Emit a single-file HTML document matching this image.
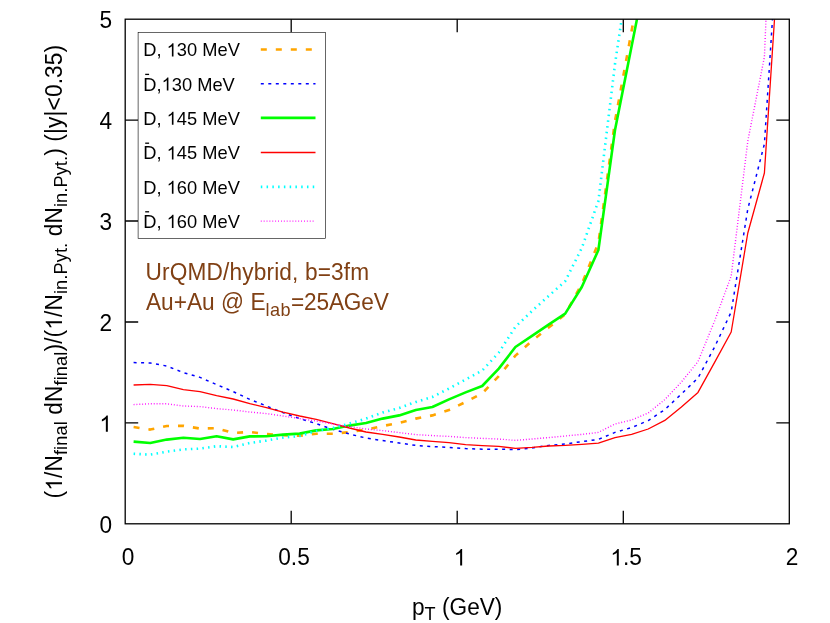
<!DOCTYPE html>
<html><head><meta charset="utf-8"><title>plot</title>
<style>
html,body{margin:0;padding:0;background:#fff;}
body{width:830px;height:623px;overflow:hidden;}
svg{display:block;will-change:transform;}
text{font-family:"Liberation Sans",sans-serif;font-size:22.67px;fill:#000;font-kerning:none;}
.ora{fill:none;stroke:#ffa500;stroke-width:2.6;stroke-dasharray:6 9;}
.blu{fill:none;stroke:#0000ff;stroke-width:1.5;stroke-dasharray:3 4.5;}
.grn{fill:none;stroke:#00ff00;stroke-width:2.6;}
.red{fill:none;stroke:#ff0000;stroke-width:1.3;}
.cya{fill:none;stroke:#00ffff;stroke-width:2.6;stroke-dasharray:1.5 4.27;}
.mag{fill:none;stroke:#ff00ff;stroke-width:1.4;stroke-dasharray:0.9 1.98;}
.br{fill:#804014;}
.lg{font-size:18.3px;}
.sb{font-size:18.1px;}
.h{fill:none;}
.one{fill:#000;stroke:none;}
</style></head>
<body>
<svg width="830" height="623" viewBox="0 0 830 623">
<rect x="0" y="0" width="830" height="623" fill="#fff"/>
<defs><clipPath id="cp"><rect x="125.2" y="19.2" width="664.0999999999999" height="504.59999999999997"/></clipPath></defs>
<path d="M291.2,523.8 v-13 M291.2,19.2 v13 M457.2,523.8 v-13 M457.2,19.2 v13 M623.3,523.8 v-13 M623.3,19.2 v13 M125.2,422.9 h13 M789.3,422.9 h-13 M125.2,322.0 h13 M789.3,322.0 h-13 M125.2,221.0 h13 M789.3,221.0 h-13 M125.2,120.1 h13 M789.3,120.1 h-13" stroke="#000" stroke-width="1.3" fill="none"/>
<g clip-path="url(#cp)" stroke-linejoin="round">
<polyline class="ora" points="133.6,427.0 150.2,429.6 166.8,426.0 183.4,425.8 200.0,428.6 216.6,428.2 233.2,433.0 249.8,432.0 266.4,434.0 283.0,435.2 299.6,435.8 316.2,433.8 332.8,433.8 349.4,432.0 366.0,429.6 382.6,426.0 399.2,423.0 415.8,418.6 432.4,415.4 449.0,410.0 465.6,402.0 482.2,393.4 498.8,376.2 515.4,355.6 532.0,340.8 548.6,327.6 565.2,314.3 581.8,284.0 598.4,243.0 615.0,121.0 633.8,19.0"/>
<polyline class="blu" points="133.6,362.6 150.2,363.0 166.8,366.0 183.4,372.6 200.0,377.4 216.6,384.6 233.2,391.6 249.8,399.4 266.4,406.0 283.0,412.6 299.6,418.6 316.2,423.6 332.8,429.4 349.4,434.0 366.0,438.0 382.6,440.6 399.2,443.0 415.8,445.4 432.4,446.6 449.0,447.4 465.6,448.6 482.2,449.2 498.8,449.2 515.4,449.6 532.0,448.0 548.6,445.4 565.2,444.0 581.8,441.6 598.4,439.4 615.0,432.4 631.6,427.6 648.2,420.6 664.8,409.6 681.4,394.0 698.0,378.0 714.6,347.0 731.2,312.0 747.8,209.0 764.4,144.0 772.5,19.0"/>
<polyline class="grn" points="133.6,441.6 150.2,443.0 166.8,439.6 183.4,437.8 200.0,439.0 216.6,436.2 233.2,439.4 249.8,436.4 266.4,436.2 283.0,434.6 299.6,433.6 316.2,430.4 332.8,429.0 349.4,425.6 366.0,423.0 382.6,418.6 399.2,415.4 415.8,410.0 432.4,407.0 449.0,399.4 465.6,392.4 482.2,386.0 498.8,368.6 515.4,347.0 532.0,335.9 548.6,324.7 565.2,313.6 581.8,287.0 598.4,250.0 615.0,130.0 637.0,19.0"/>
<polyline class="red" points="133.6,385.0 150.2,384.4 166.8,385.6 183.4,389.6 200.0,391.6 216.6,395.6 233.2,399.0 249.8,403.6 266.4,407.6 283.0,412.2 299.6,416.0 316.2,419.4 332.8,423.6 349.4,428.0 366.0,432.0 382.6,434.4 399.2,437.0 415.8,440.0 432.4,441.4 449.0,442.6 465.6,444.6 482.2,445.6 498.8,446.4 515.4,448.4 532.0,447.4 548.6,446.0 565.2,445.4 581.8,444.4 598.4,443.2 615.0,437.6 631.6,434.4 648.2,429.0 664.8,420.4 681.4,407.0 698.0,392.4 714.6,362.4 731.2,332.0 747.8,233.0 764.4,173.0 774.5,19.3"/>
<polyline class="cya" points="133.6,453.8 150.2,454.6 166.8,451.6 183.4,449.4 200.0,448.6 216.6,446.2 233.2,447.0 249.8,443.0 266.4,440.6 283.0,437.6 299.6,436.0 316.2,431.0 332.8,428.0 349.4,423.6 366.0,418.6 382.6,412.6 399.2,408.0 415.8,402.0 432.4,397.0 449.0,388.5 465.6,379.5 482.2,370.6 498.8,352.6 515.4,326.8 532.0,311.0 548.6,296.0 565.2,281.2 581.8,248.0 598.4,201.0 615.0,64.0 621.7,19.0"/>
<polyline class="mag" points="133.6,404.6 150.2,403.8 166.8,403.8 183.4,406.0 200.0,406.6 216.6,408.6 233.2,410.0 249.8,412.0 266.4,413.6 283.0,416.0 299.6,418.6 316.2,421.0 332.8,424.0 349.4,426.6 366.0,429.0 382.6,430.6 399.2,432.6 415.8,434.6 432.4,435.6 449.0,436.4 465.6,437.6 482.2,438.4 498.8,439.0 515.4,440.4 532.0,439.0 548.6,437.6 565.2,436.0 581.8,434.4 598.4,432.4 615.0,424.0 631.6,420.0 648.2,413.0 664.8,399.6 681.4,382.0 698.0,361.6 714.6,321.0 731.2,276.0 747.8,141.0 764.4,57.0 766.0,19.0"/>
</g>
<rect x="125.2" y="19.2" width="664.0999999999999" height="504.59999999999997" fill="none" stroke="#000" stroke-width="1.3"/>
<rect x="138.1" y="32.5" width="187.3" height="205.8" fill="#fff" stroke="#000" stroke-width="0.6"/>
<path class="ora" d="M260.8,49.5 H315.5"/>
<path d="M145.2,74.4 h3.9" stroke="#000" stroke-width="1.3" fill="none"/>
<path class="blu" d="M260.8,83.7 H315.5"/>
<path class="grn" d="M260.8,117.9 H315.5"/>
<path d="M145.2,143.2 h3.9" stroke="#000" stroke-width="1.3" fill="none"/>
<path class="red" d="M260.8,152.5 H315.5"/>
<path class="cya" d="M260.8,186.9 H315.5"/>
<path d="M145.2,211.8 h3.9" stroke="#000" stroke-width="1.3" fill="none"/>
<path class="mag" d="M260.8,221.1 H315.5"/>
<g transform="translate(128.0,565.4) scale(1,1.045)"><text id="t0" text-anchor="middle">0</text></g>
<g transform="translate(294.0,565.4) scale(1,1.045)"><text id="t1" text-anchor="middle">0.5</text></g>
<g transform="translate(460.0,565.4) scale(1,1.045)"><text id="t2" text-anchor="middle"><tspan class="h">1</tspan></text><path class="one" transform="translate(-6.30,0.00) scale(0.01107,-0.01059)" d="M763 0H583V1147Q518 1085 412.5 1023Q307 961 223 930V1104Q374 1175 487 1276Q600 1377 647 1472H763Z"/></g>
<g transform="translate(626.1,565.4) scale(1,1.045)"><text id="t3" text-anchor="middle"><tspan class="h">1</tspan>.5</text><path class="one" transform="translate(-15.75,0.00) scale(0.01107,-0.01059)" d="M763 0H583V1147Q518 1085 412.5 1023Q307 961 223 930V1104Q374 1175 487 1276Q600 1377 647 1472H763Z"/></g>
<g transform="translate(792.1,565.4) scale(1,1.045)"><text id="t4" text-anchor="middle">2</text></g>
<g transform="translate(112.0,532.6) scale(1,1.045)"><text id="t5" text-anchor="end">0</text></g>
<g transform="translate(112.0,431.7) scale(1,1.045)"><text id="t6" text-anchor="end"><tspan class="h">1</tspan></text><path class="one" transform="translate(-12.60,0.00) scale(0.01107,-0.01059)" d="M763 0H583V1147Q518 1085 412.5 1023Q307 961 223 930V1104Q374 1175 487 1276Q600 1377 647 1472H763Z"/></g>
<g transform="translate(112.0,330.8) scale(1,1.045)"><text id="t7" text-anchor="end">2</text></g>
<g transform="translate(112.0,229.8) scale(1,1.045)"><text id="t8" text-anchor="end">3</text></g>
<g transform="translate(112.0,128.9) scale(1,1.045)"><text id="t9" text-anchor="end">4</text></g>
<g transform="translate(112.0,28.0) scale(1,1.045)"><text id="t10" text-anchor="end">5</text></g>
<g transform="translate(143.3,56.4) scale(1,1.045)"><text id="t11" class="lg">D, <tspan class="h">1</tspan>30 MeV</text><path class="one" transform="translate(23.37,0.00) scale(0.00894,-0.00855)" d="M763 0H583V1147Q518 1085 412.5 1023Q307 961 223 930V1104Q374 1175 487 1276Q600 1377 647 1472H763Z"/></g>
<g transform="translate(143.3,90.6) scale(1,1.045)"><text id="t12" class="lg">D,<tspan class="h">1</tspan>30 MeV</text><path class="one" transform="translate(18.30,0.00) scale(0.00894,-0.00855)" d="M763 0H583V1147Q518 1085 412.5 1023Q307 961 223 930V1104Q374 1175 487 1276Q600 1377 647 1472H763Z"/></g>
<g transform="translate(143.3,124.8) scale(1,1.045)"><text id="t13" class="lg">D, <tspan class="h">1</tspan>45 MeV</text><path class="one" transform="translate(23.37,0.00) scale(0.00894,-0.00855)" d="M763 0H583V1147Q518 1085 412.5 1023Q307 961 223 930V1104Q374 1175 487 1276Q600 1377 647 1472H763Z"/></g>
<g transform="translate(143.3,159.4) scale(1,1.045)"><text id="t14" class="lg">D, <tspan class="h">1</tspan>45 MeV</text><path class="one" transform="translate(23.37,0.00) scale(0.00894,-0.00855)" d="M763 0H583V1147Q518 1085 412.5 1023Q307 961 223 930V1104Q374 1175 487 1276Q600 1377 647 1472H763Z"/></g>
<g transform="translate(143.3,193.8) scale(1,1.045)"><text id="t15" class="lg">D, <tspan class="h">1</tspan>60 MeV</text><path class="one" transform="translate(23.37,0.00) scale(0.00894,-0.00855)" d="M763 0H583V1147Q518 1085 412.5 1023Q307 961 223 930V1104Q374 1175 487 1276Q600 1377 647 1472H763Z"/></g>
<g transform="translate(143.3,228.0) scale(1,1.045)"><text id="t16" class="lg">D, <tspan class="h">1</tspan>60 MeV</text><path class="one" transform="translate(23.37,0.00) scale(0.00894,-0.00855)" d="M763 0H583V1147Q518 1085 412.5 1023Q307 961 223 930V1104Q374 1175 487 1276Q600 1377 647 1472H763Z"/></g>
<g transform="translate(145.5,279.9) scale(1,1.045)"><text id="t17" class="br" letter-spacing="0.15">UrQMD/hybrid, b=3fm</text></g>
<g transform="translate(145.9,310.0) scale(1,1.045)"><text id="t18" class="br" letter-spacing="0.03">Au+Au @ E<tspan class="sb" dy="5.9" letter-spacing="0.4">lab</tspan><tspan dy="-5.9" letter-spacing="-0.14">=25AGeV</tspan></text></g>
<g transform="translate(457.2,614.8) scale(1,1.045)"><text id="t19" text-anchor="middle">p<tspan class="sb" dy="4.7">T</tspan><tspan dy="-4.7"> (GeV)</tspan></text></g>
<g transform="translate(62.0,271.6) rotate(-90) scale(1,1.045)"><text id="t20" text-anchor="middle" letter-spacing="0.143">(<tspan class="h">1</tspan>/N<tspan class="sb" dy="4.6">final</tspan><tspan dy="-4.6"> dN</tspan><tspan class="sb" dy="4.6">final</tspan><tspan dy="-4.6">)/(<tspan class="h">1</tspan>/N</tspan><tspan class="sb" dy="4.6">in.Pyt.</tspan><tspan dy="-4.6"> dN</tspan><tspan class="sb" dy="4.6">in.Pyt.</tspan><tspan dy="-4.6">) (|y|&lt;0.35)</tspan></text><path class="one" transform="translate(-219.16,0.00) scale(0.01107,-0.01059)" d="M763 0H583V1147Q518 1085 412.5 1023Q307 961 223 930V1104Q374 1175 487 1276Q600 1377 647 1472H763Z"/><path class="one" transform="translate(-58.15,0.00) scale(0.01107,-0.01059)" d="M763 0H583V1147Q518 1085 412.5 1023Q307 961 223 930V1104Q374 1175 487 1276Q600 1377 647 1472H763Z"/></g>
</svg>
</body></html>
